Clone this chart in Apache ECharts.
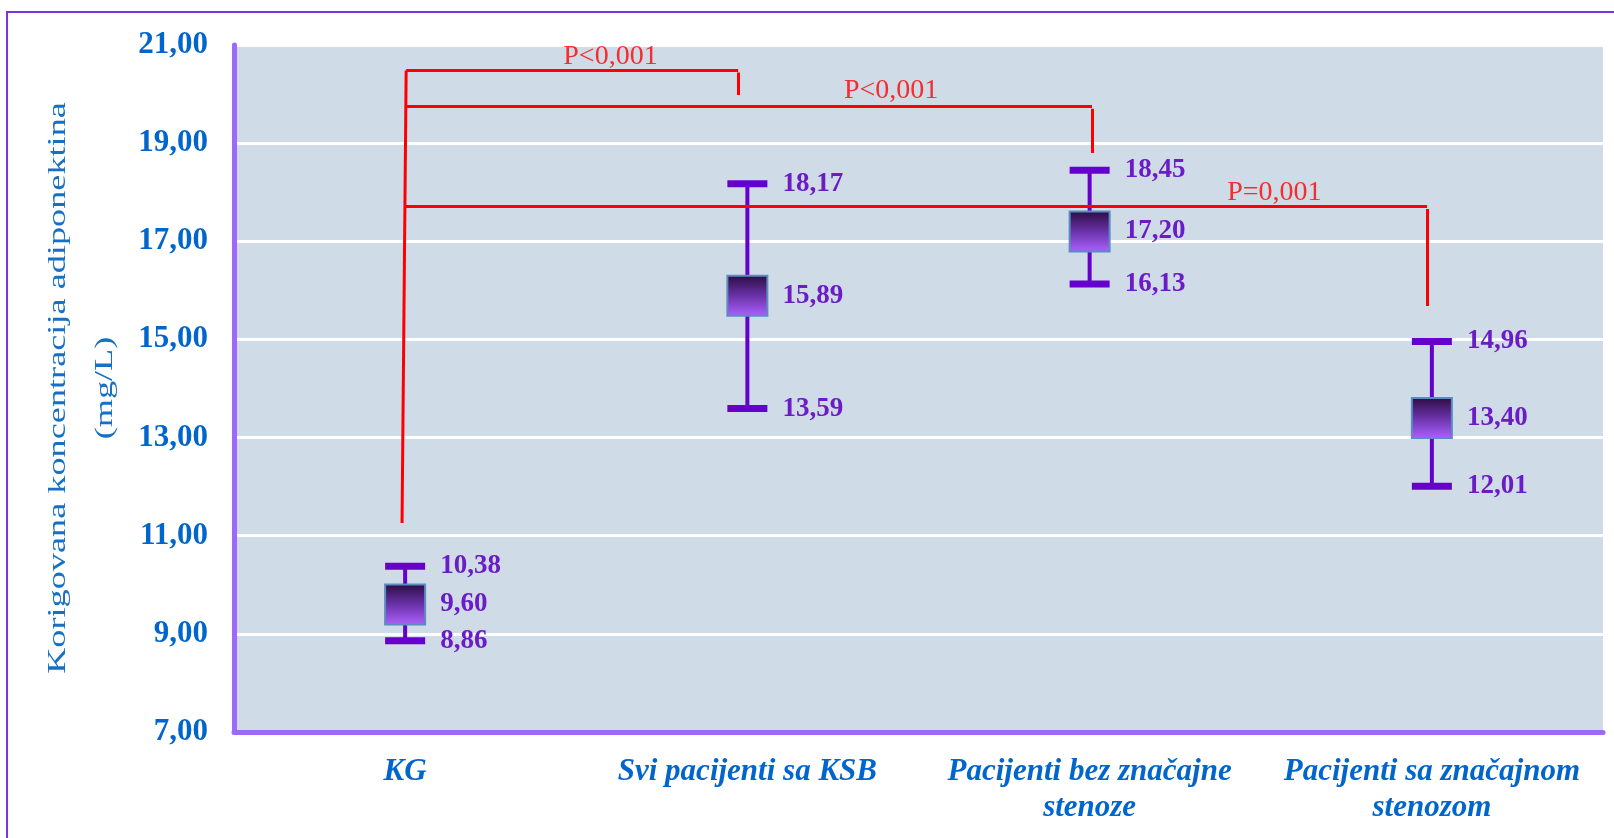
<!DOCTYPE html>
<html>
<head>
<meta charset="utf-8">
<script src="https://cdn.jsdelivr.net/npm/echarts@6/dist/echarts.min.js"></script>
<style>
html,body{margin:0;padding:0;background:#fff;}
#chart{width:1614px;height:838px;}
</style>
</head>
<body>
<div id="chart"></div>
<script>
// ---- data ----
const categories = ['KG', 'Svi pacijenti sa KSB', 'Pacijenti bez značajne\nstenoze', 'Pacijenti sa značajnom\nstenozom'];
const lowerValues = [8.86, 13.59, 16.13, 12.01];
const meanValues = [9.60, 15.89, 17.20, 13.40];
const upperValues = [10.38, 18.17, 18.45, 14.96];
const yMin = 7, yMax = 21, yStep = 2;
const axisTitle = 'Korigovana koncentracija adiponektina\n(mg/L)';
// significance annotations (in data space: x = category position, y = value)
const sigTexts = ['P<0,001', 'P<0,001', 'P=0,001'];
const sigTextPos = [[0.60, 20.76], [1.42, 20.08], [2.54, 18.00]];
const sigSegments = [
  [[0.003, 20.48], [-0.009, 11.26]],
  [[0.003, 20.48], [0.973, 20.48]],
  [[0.973, 20.44], [0.973, 19.98]],
  [[0.000, 19.76], [2.007, 19.76]],
  [[2.007, 19.70], [2.007, 18.80]],
  [[-0.003, 17.72], [2.986, 17.72]],
  [[2.986, 17.66], [2.986, 15.68]]
];

const fmt = v => Number(v).toFixed(2).replace('.', ',');
const errData = categories.map((c, i) => [i, lowerValues[i], meanValues[i], upperValues[i]]);

const whiskerColor = '#6600cc';
const labelColor = '#6b1cc6';
const labelFont = 'bold 27px "Liberation Serif"';

function renderItem(params, api) {
  const i = api.value(0);
  const lo = api.coord([i, api.value(1)]);
  const mid = api.coord([i, api.value(2)]);
  const hi = api.coord([i, api.value(3)]);
  const x = hi[0];
  const half = 20;
  const capH = 7;
  const lx = x + 35;
  return {
    type: 'group',
    children: [
      {type: 'line', shape: {x1: x, y1: hi[1], x2: x, y2: lo[1]}, style: {stroke: whiskerColor, lineWidth: 4}},
      {type: 'rect', shape: {x: x - half, y: hi[1] - capH / 2, width: half * 2, height: capH}, style: {fill: whiskerColor}},
      {type: 'rect', shape: {x: x - half, y: lo[1] - capH / 2, width: half * 2, height: capH}, style: {fill: whiskerColor}},
      {type: 'rect', shape: {x: x - half, y: mid[1] - half, width: half * 2, height: half * 2},
        style: {
          fill: new echarts.graphic.LinearGradient(0, 0, 0, 1, [
            {offset: 0, color: '#2a0c40'},
            {offset: 0.5, color: '#6a32a8'},
            {offset: 1, color: '#ad62ff'}
          ]),
          stroke: '#5a8cc2', lineWidth: 2
        }},
      {type: 'text', x: lx, y: hi[1], style: {text: fmt(api.value(3)), font: labelFont, fill: labelColor, align: 'left', verticalAlign: 'middle'}},
      {type: 'text', x: lx, y: mid[1], style: {text: fmt(api.value(2)), font: labelFont, fill: labelColor, align: 'left', verticalAlign: 'middle'}},
      {type: 'text', x: lx, y: lo[1], style: {text: fmt(api.value(1)), font: labelFont, fill: labelColor, align: 'left', verticalAlign: 'middle'}}
    ]
  };
}

const chart = echarts.init(document.getElementById('chart'), null, {renderer: 'canvas'});
chart.setOption({
  animation: false,
  backgroundColor: '#ffffff',
  grid: {left: 234, right: 11, top: 45, bottom: 106, show: true, backgroundColor: '#cfdbe6', borderWidth: 0},
  xAxis: [
    {
      type: 'category', data: categories, gridIndex: 0,
      axisLine: {show: true, onZero: false, lineStyle: {color: '#9d68fb', width: 5}},
      axisTick: {show: false},
      splitLine: {show: false},
      axisLabel: {interval: 0, margin: 22, color: '#0066cc', fontFamily: 'Liberation Serif', fontWeight: 'bold', fontStyle: 'italic', fontSize: 31, lineHeight: 36}
    },
    {type: 'value', min: -0.5, max: 3.5, show: false, gridIndex: 0,
      axisLine: {show: false}, axisLabel: {show: false}, axisTick: {show: false}, splitLine: {show: false}}
  ],
  yAxis: {
    type: 'value', min: yMin, max: yMax, interval: yStep,
    axisLine: {show: true, onZero: false, lineStyle: {color: '#9d68fb', width: 5}},
    axisTick: {show: false},
    splitLine: {show: true, lineStyle: {color: '#ffffff', width: 3}},
    axisLabel: {margin: 26, color: '#0066cc', fontFamily: 'Liberation Serif', fontWeight: 'bold', fontSize: 31, formatter: fmt}
  },
  graphic: [
    {type: 'rect', silent: true, z: -10, shape: {x: 7, y: 12, width: 1700, height: 900}, style: {fill: 'none', stroke: '#7a33dd', lineWidth: 2}},
    {type: 'text', silent: true, x: 82, y: 388, rotation: Math.PI / 2, scaleX: 1.45, scaleY: 1,
      style: {text: axisTitle, font: '25px "Liberation Serif"', fill: '#1570c6', align: 'center', verticalAlign: 'middle', lineHeight: 47}}
  ],
  series: [
    {
      type: 'custom', xAxisIndex: 0, yAxisIndex: 0, data: errData, renderItem: renderItem, z: 3,
      encode: {x: 0, y: [1, 2, 3]}
    },
    {
      type: 'lines', coordinateSystem: 'cartesian2d', xAxisIndex: 1, yAxisIndex: 0, z: 4,
      lineStyle: {color: '#ff0000', width: 3, opacity: 1},
      data: sigSegments.map(s => ({coords: s}))
    },
    {
      type: 'scatter', xAxisIndex: 1, yAxisIndex: 0, symbolSize: 0, z: 5,
      data: sigTextPos.map((p, i) => ({value: p, name: sigTexts[i]})),
      label: {show: true, position: 'inside', formatter: p => p.name, color: '#ff0000', fontFamily: 'Liberation Serif', fontSize: 28}
    }
  ]
});
</script>
</body>
</html>
